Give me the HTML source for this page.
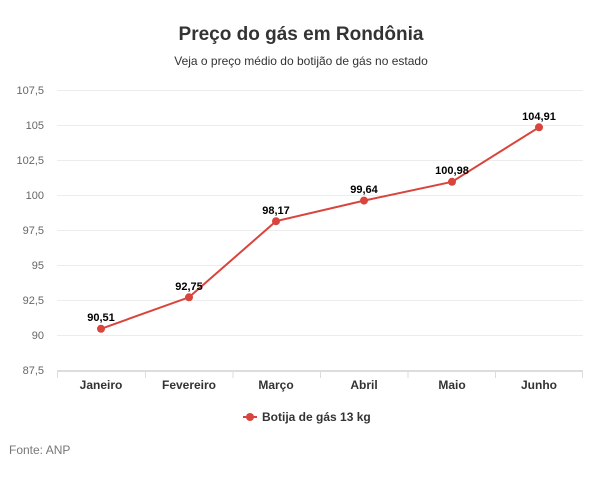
<!DOCTYPE html>
<html><head><meta charset="utf-8"><style>
body{margin:0;background:#fff;font-family:"Liberation Sans",sans-serif}
</style></head><body>
<svg width="602" height="489" xmlns="http://www.w3.org/2000/svg" font-family="Liberation Sans, sans-serif">
<rect width="602" height="489" fill="#fff"/>
<text x="301" y="40" text-anchor="middle" font-size="19" font-weight="bold" fill="#333">Preço do gás em Rondônia</text>
<text x="301" y="65" text-anchor="middle" font-size="12" fill="#333">Veja o preço médio do botijão de gás no estado</text>
<g stroke="#ececec" stroke-width="1">
<line x1="57" x2="583" y1="90.5" y2="90.5"/>
<line x1="57" x2="583" y1="125.5" y2="125.5"/>
<line x1="57" x2="583" y1="160.5" y2="160.5"/>
<line x1="57" x2="583" y1="195.5" y2="195.5"/>
<line x1="57" x2="583" y1="230.5" y2="230.5"/>
<line x1="57" x2="583" y1="265.5" y2="265.5"/>
<line x1="57" x2="583" y1="300.5" y2="300.5"/>
<line x1="57" x2="583" y1="335.5" y2="335.5"/>
</g>
<line x1="57" x2="583" y1="371" y2="371" stroke="#ddd" stroke-width="2"/>
<g stroke="#ddd" stroke-width="1">
<line x1="57.5" x2="57.5" y1="371" y2="378"/><line x1="145.5" x2="145.5" y1="371" y2="378"/><line x1="233" x2="233" y1="371" y2="378"/><line x1="320.5" x2="320.5" y1="371" y2="378"/><line x1="408" x2="408" y1="371" y2="378"/><line x1="495.5" x2="495.5" y1="371" y2="378"/><line x1="582.5" x2="582.5" y1="371" y2="378"/>
</g>
<g font-size="11" fill="#666" text-anchor="end">
<text x="44" y="94">107,5</text><text x="44" y="129">105</text><text x="44" y="164">102,5</text><text x="44" y="199">100</text><text x="44" y="234">97,5</text><text x="44" y="269">95</text><text x="44" y="304">92,5</text><text x="44" y="339">90</text><text x="44" y="374">87,5</text>
</g>
<g font-size="12" font-weight="bold" fill="#333" text-anchor="middle">
<text x="101" y="389">Janeiro</text><text x="189" y="389">Fevereiro</text><text x="276" y="389">Março</text><text x="364" y="389">Abril</text><text x="452" y="389">Maio</text><text x="539" y="389">Junho</text>
</g>
<polyline fill="none" stroke="#d9443d" stroke-width="2" points="101,328.8 189,297.3 276,221.2 364,200.6 452,181.8 539,127.3"/>
<g fill="#d9443d">
<circle cx="101" cy="328.8" r="4"/><circle cx="189" cy="297.3" r="4"/><circle cx="276" cy="221.2" r="4"/><circle cx="364" cy="200.6" r="4"/><circle cx="452" cy="181.8" r="4"/><circle cx="539" cy="127.3" r="4"/>
</g>
<g font-size="11" font-weight="bold" fill="#000" text-anchor="middle">
<text x="101" y="321">90,51</text><text x="189" y="290">92,75</text><text x="276" y="214">98,17</text><text x="364" y="193">99,64</text><text x="452" y="174">100,98</text><text x="539" y="120">104,91</text>
</g>
<line x1="243" x2="257" y1="417" y2="417" stroke="#d9443d" stroke-width="2"/>
<circle cx="250" cy="417" r="4" fill="#d9443d"/>
<text x="262" y="421" font-size="12" font-weight="bold" fill="#333">Botija de gás 13 kg</text>
<text x="9" y="454" font-size="12" fill="#777">Fonte: ANP</text>
</svg>
</body></html>
